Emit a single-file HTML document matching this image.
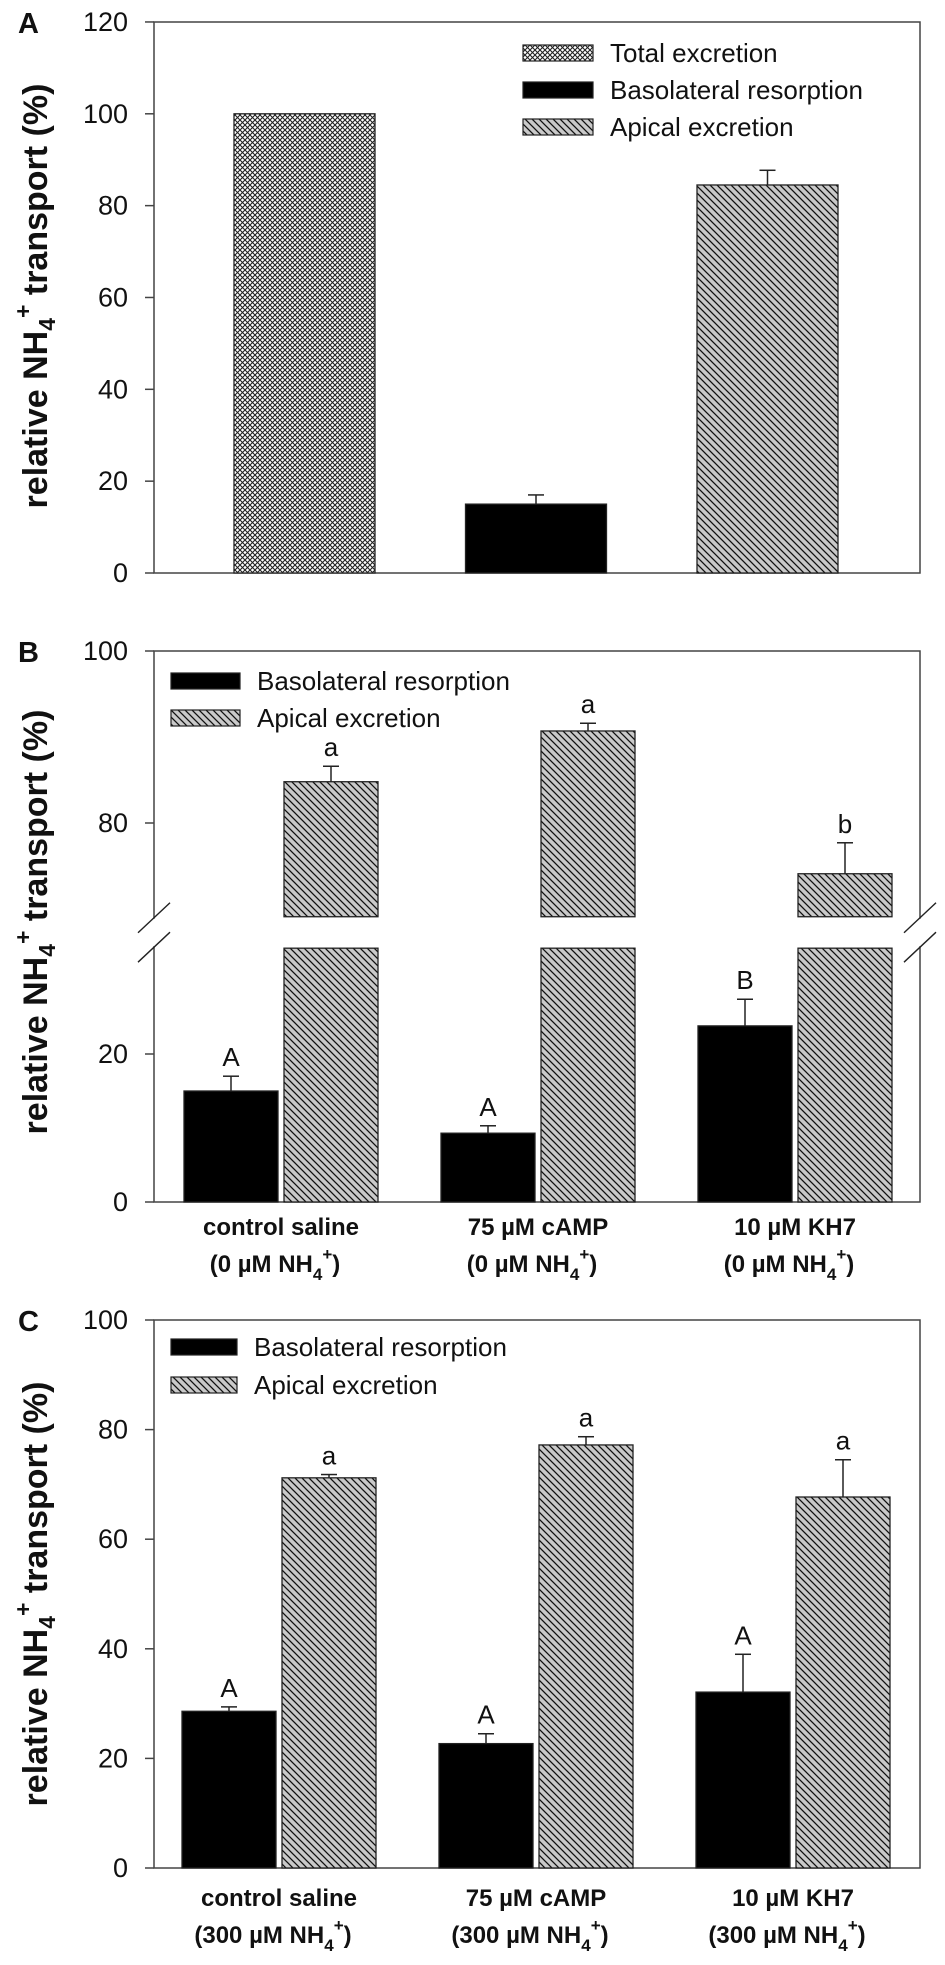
<!DOCTYPE html>
<html><head><meta charset="utf-8">
<style>
html,body{margin:0;padding:0;background:#fff;}
svg{display:block;font-family:"Liberation Sans",Arial,sans-serif;}
</style></head>
<body>
<svg id="fig" width="945" height="1965" viewBox="0 0 945 1965" xmlns="http://www.w3.org/2000/svg">
<defs>
<pattern id="cross" width="5" height="5" patternUnits="userSpaceOnUse">
<rect width="5" height="5" fill="#fff"/>
<path d="M0,0 L5,5 M5,0 L0,5" stroke="#222" stroke-width="1.1"/>
</pattern>
<pattern id="hatch" width="7" height="7" patternUnits="userSpaceOnUse">
<rect width="7" height="7" fill="#c9c9c9"/>
<path d="M-1,-1 L8,8 M-1,6 L1,8 M6,-1 L8,1" stroke="#111" stroke-width="1.3"/>
</pattern>
</defs>
</svg>
<script>
// ---- Data ----
const catsA = ["Total excretion","Basolateral resorption","Apical excretion"];
const valsA = [100, 15, 84.5];
const errA = [0, 2, 3.2];
const ticksA = [0,20,40,60,80,100,120];

const catsB = ["control saline|(0 µM NH4+)","75 µM cAMP|(0 µM NH4+)","10 µM KH7|(0 µM NH4+)"];
const basoB = [15, 9.3, 23.8];
const basoErrB = [2, 1, 3.6];
const apiB = [84.8, 90.7, 74.1];
const apiErrB = [1.8, 0.9, 3.6];
const basoLetB = ["A","A","B"];
const apiLetB = ["a","a","b"];
const ticksB = [0,20,80,100];

const catsC = ["control saline|(300 µM NH4+)","75 µM cAMP|(300 µM NH4+)","10 µM KH7|(300 µM NH4+)"];
const basoC = [28.6, 22.7, 32.1];
const basoErrC = [0.8, 1.8, 6.9];
const apiC = [71.2, 77.2, 67.7];
const apiErrC = [0.6, 1.5, 6.8];
const basoLetC = ["A","A","A"];
const apiLetC = ["a","a","a"];
const ticksC = [0,20,40,60,80,100];

const svg = document.getElementById('fig');
const NS = "http://www.w3.org/2000/svg";
function mk(tag, attrs, parent){const e=document.createElementNS(NS,tag);for(const k in attrs)e.setAttribute(k,attrs[k]);(parent||svg).appendChild(e);return e;}

const AX = 154, RX = 920;

const yA = v => 573 - v*4.592;
const yC = v => 1868 - v*5.48;
const B_LOW_MAX = 34.3, B_UP_MIN = 69.1;
const yB = v => v <= B_LOW_MAX + 0.001 ? 1202 - v*7.4 : 823 - (v-80)*8.6;

function frame(top, bottom, name){
  const r = mk('rect',{x:AX,y:top,width:RX-AX,height:bottom-top,fill:'none',stroke:'#444','stroke-width':1.5});
  
  
}
function yTicks(ticks, scale, name){
  const g = mk('g',{});
  
  
  ticks.forEach(t=>{
    const y = scale(t);
    mk('line',{x1:AX-9,x2:AX,y1:y,y2:y,stroke:'#444','stroke-width':1.5},g);
    const tx = mk('text',{x:128,y:y+9,'text-anchor':'end','font-size':27,fill:'#111'},g);
    tx.textContent = t;
    
    
  });
}
function yTitle(cy){
  const t = mk('text',{transform:`translate(47,${cy}) rotate(-90)`,'text-anchor':'middle','font-size':34,'font-weight':'bold',fill:'#111'});
  
  
  t.innerHTML = 'relative NH<tspan dy="8" font-size="23">4</tspan><tspan dy="-24" font-size="23">+</tspan><tspan dy="16"> transport (%)</tspan>';
}
function panelLetter(l, x, y){
  const t = mk('text',{x:x,y:y,'font-size':29,'font-weight':'bold',fill:'#111'});
  t.textContent = l;
  
  
}
function bar(x, w, y0, y1, fill, name){
  const r = mk('rect',{x:x,y:Math.min(y0,y1),width:w,height:Math.abs(y1-y0),fill:fill,stroke:'#222','stroke-width':1.3});
  
  
  return r;
}
function errBar(cx, yTop, yErr, name){
  const g = mk('g',{stroke:'#222','stroke-width':1.5});
  
  
  mk('line',{x1:cx,x2:cx,y1:yTop,y2:yErr},g);
  mk('line',{x1:cx-8,x2:cx+8,y1:yErr,y2:yErr},g);
}
function sigLetter(cx, y, l){
  const t = mk('text',{x:cx,y:y,'text-anchor':'middle','font-size':26,fill:'#111'});
  t.textContent = l;
  
  
}
function legendEntry(x, cy, fill, label, w){
  const g = mk('g',{});
  
  
  mk('rect',{x:x,y:cy-8,width:w,height:16,fill:fill,stroke:'#222','stroke-width':1.2},g);
  const t = mk('text',{x:x+w+17,y:cy+9,'font-size':26,fill:'#111'},g);
  t.textContent = label;
}
function xLabel(cx, y, label){
  const [l1,l2] = label.split('|');
  const g = mk('g',{'font-size':24,'font-weight':'bold',fill:'#111','text-anchor':'middle'});
  
  
  const t1 = mk('text',{x:cx,y:y},g); t1.textContent = l1;
  const t2 = mk('text',{x:cx-6,y:y+37},g);
  const m = l2.replace('NH4+)','NH');
  t2.innerHTML = m + '<tspan dy="8" font-size="17">4</tspan><tspan dy="-20" font-size="17">+</tspan><tspan dy="12">)</tspan>';
}

// ---- Panel A ----
frame(22, 573, 'panel-a-plot-area');
yTicks(ticksA, yA, 'panel-a-y-axis');
yTitle(296);
panelLetter('A', 18, 33);
const fillsA = ['url(#cross)','#000','url(#hatch)'];
const xA0 = 234, stepA = 231.5, wA = 141;
catsA.forEach((c,i)=>{
  const x = xA0 + i*stepA;
  bar(x, wA, yA(0), yA(valsA[i]), fillsA[i], 'bar-a-'+i);
  if (errA[i]>0) errBar(x+wA/2, yA(valsA[i]), yA(valsA[i]+errA[i]), 'error-bar-a-'+i);
});
catsA.forEach((c,i)=>legendEntry(523, 53+i*37, fillsA[i], c, 70));

// ---- Panel B ----
frame(651, 1202, 'panel-b-plot-area');
yTicks(ticksB, yB, 'panel-b-y-axis');
yTitle(922);
panelLetter('B', 18, 662);
const gapTop = yB(B_UP_MIN), gapBot = yB(B_LOW_MAX);
function drawBarB(x, v, fill, name){
  if (v <= B_LOW_MAX) { bar(x, 94, yB(0), yB(v), fill, name); }
  else {
    bar(x, 94, yB(0), gapBot, fill, name+'-lower');
    bar(x, 94, gapTop, yB(v), fill, name+'-upper');
  }
}
catsB.forEach((c,i)=>{
  const x = 184 + i*257;
  drawBarB(x, basoB[i], '#000', 'bar-b-baso-'+i);
  errBar(x+47, yB(basoB[i]), yB(basoB[i]+basoErrB[i]), 'error-bar-b-baso-'+i);
  sigLetter(x+47, yB(basoB[i]+basoErrB[i])-10, basoLetB[i]);
  drawBarB(x+100, apiB[i], 'url(#hatch)', 'bar-b-apical-'+i);
  errBar(x+147, yB(apiB[i]), yB(apiB[i]+apiErrB[i]), 'error-bar-b-apical-'+i);
  sigLetter(x+147, yB(apiB[i]+apiErrB[i])-10, apiLetB[i]);
  xLabel(x+97, 1235, c);
});
[AX, RX].forEach((ax,k)=>{
  const g = mk('g',{});
  
  
  mk('rect',{x:ax-3,y:gapTop+2,width:6,height:gapBot-gapTop-4,fill:'#fff'},g);
  mk('line',{x1:ax-16,y1:gapTop+16,x2:ax+16,y2:gapTop-14,stroke:'#222','stroke-width':1.4},g);
  mk('line',{x1:ax-16,y1:gapBot+14,x2:ax+16,y2:gapBot-16,stroke:'#222','stroke-width':1.4},g);
});
legendEntry(171, 681, '#000', 'Basolateral resorption', 69);
legendEntry(171, 718, 'url(#hatch)', 'Apical excretion', 69);

// ---- Panel C ----
frame(1320, 1868, 'panel-c-plot-area');
yTicks(ticksC, yC, 'panel-c-y-axis');
yTitle(1594);
panelLetter('C', 18, 1331);
catsC.forEach((c,i)=>{
  const x = 182 + i*257;
  bar(x, 94, yC(0), yC(basoC[i]), '#000', 'bar-c-baso-'+i);
  errBar(x+47, yC(basoC[i]), yC(basoC[i]+basoErrC[i]), 'error-bar-c-baso-'+i);
  sigLetter(x+47, yC(basoC[i]+basoErrC[i])-10, basoLetC[i]);
  bar(x+100, 94, yC(0), yC(apiC[i]), 'url(#hatch)', 'bar-c-apical-'+i);
  errBar(x+147, yC(apiC[i]), yC(apiC[i]+apiErrC[i]), 'error-bar-c-apical-'+i);
  sigLetter(x+147, yC(apiC[i]+apiErrC[i])-10, apiLetC[i]);
  xLabel(x+97, 1906, c);
});
legendEntry(171, 1347, '#000', 'Basolateral resorption', 66);
legendEntry(171, 1385, 'url(#hatch)', 'Apical excretion', 66);
</script>
</body></html>
